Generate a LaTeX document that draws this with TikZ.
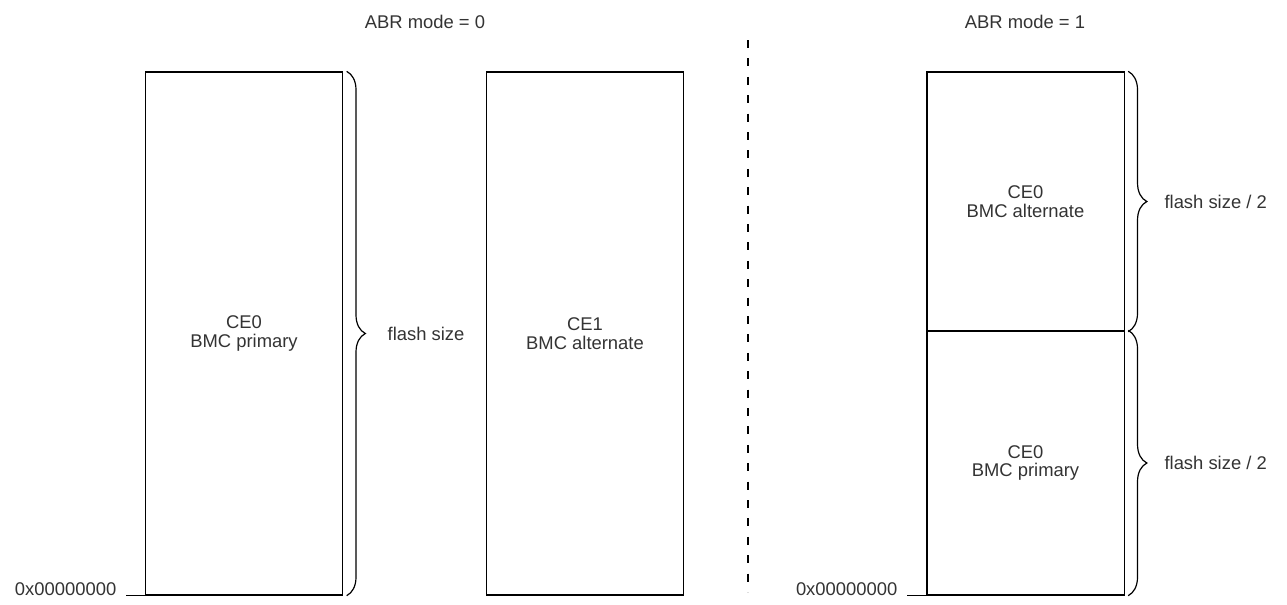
\documentclass[tikz,border=0pt]{standalone}
\usepackage{fontspec}
\setmainfont{Liberation Sans}
\usetikzlibrary{decorations.pathreplacing}
\tikzset{
  txt/.style={text=black!80, font=\fontsize{13.8}{13.8}\selectfont},
  memblock/.style={draw, line width=1pt, minimum width=148pt, align=center, inner sep=0pt},
  sizebrace/.style={decorate, decoration={brace, amplitude=14pt}, line width=0.9pt},
}
\begin{document}
\begin{tikzpicture}[x=0.75pt, y=-0.75pt, every node/.style={txt}]
    \useasboundingbox (0,0) rectangle (1287,604);

    %Trennlinie
    \draw[line width=2.2pt, dash pattern=on 6pt off 7.8pt] (748,40) -- (748,592);

    %Ueberschriften
    \node (hdzero) at (425,22) {ABR mode = 0};
    \node (hdone) at (1025,22) {ABR mode = 1};

    %ABR mode = 0
    \node[memblock, minimum height=392.25pt] (ceprim) at (244,333.5) {CE0\\BMC primary};
    \node[memblock, minimum height=392.25pt] (cealt) at (585,333.5) {CE1\\BMC alternate};
    \draw[sizebrace] ([xshift=2.5pt]ceprim.north east) -- ([xshift=2.5pt]ceprim.south east)
        node[midway, right=27pt] (fsize) {flash size};
    \node[anchor=east] (addrzero) at (121,589) {0x00000000};
    \draw[line width=1pt] ([xshift=4pt]addrzero.east |- ceprim.south west) -- (ceprim.south west);

    %ABR mode = 1
    \node[memblock, minimum height=194.25pt] (halt) at (1025.5,201.5) {CE0\\BMC alternate};
    \node[memblock, minimum height=198pt] (hprim) at (1025.5,463) {CE0\\BMC primary};
    \draw[sizebrace] ([xshift=2.5pt]halt.north east) -- ([xshift=2.5pt]halt.south east)
        node[midway, right=23.5pt] (fhalfa) {flash size / 2};
    \draw[sizebrace] ([xshift=2.5pt]hprim.north east) -- ([xshift=2.5pt]hprim.south east)
        node[midway, right=23.5pt] (fhalfb) {flash size / 2};
    \node[anchor=east] (addrone) at (902,589) {0x00000000};
    \draw[line width=1pt] ([xshift=4pt]addrone.east |- hprim.south west) -- (hprim.south west);
\end{tikzpicture}
\end{document}
